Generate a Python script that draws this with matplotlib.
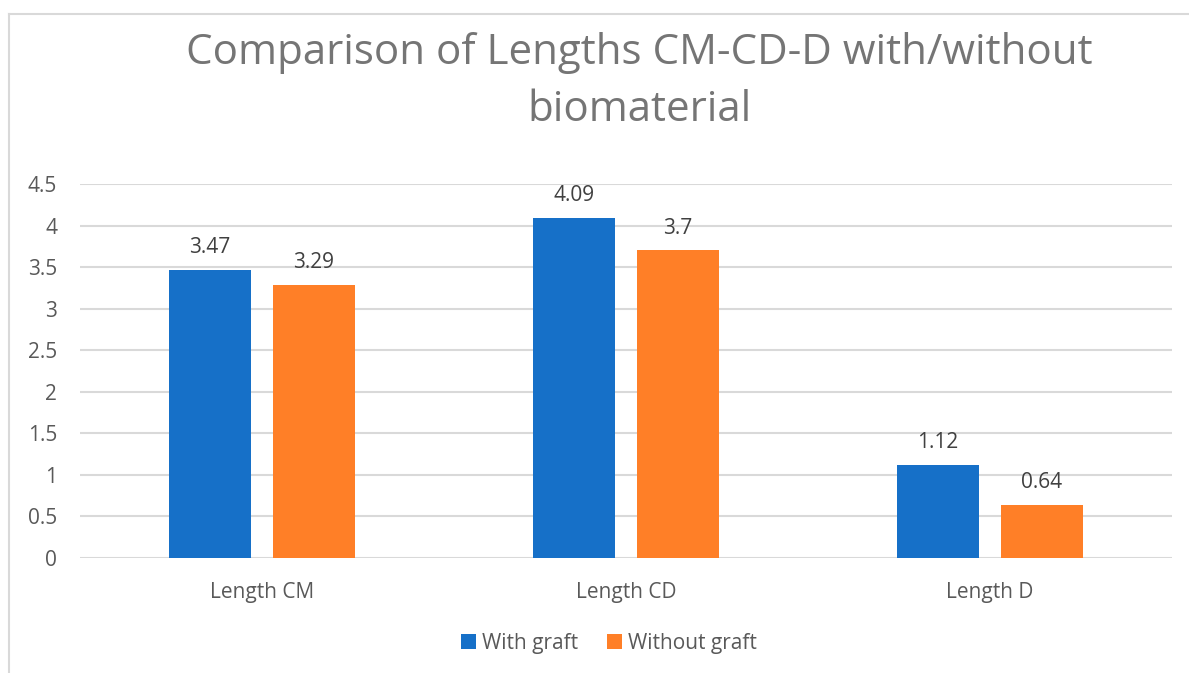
import matplotlib.pyplot as plt
import numpy as np
from matplotlib.lines import Line2D

categories = ["Length CM", "Length CD", "Length D"]
with_graft = [3.47, 4.09, 1.12]
without_graft = [3.29, 3.7, 0.64]
series_names = ["With graft", "Without graft"]
yticks = [0, 0.5, 1, 1.5, 2, 2.5, 3, 3.5, 4, 4.5]

BLUE = "#1670C8"
ORANGE = "#FF7F27"
GRID = "#D9D9D9"
TEXT = "#595959"

plt.rcParams["font.family"] = ["Open Sans", "DejaVu Sans"]

W, H = 1189, 673
fig = plt.figure(figsize=(W / 100, H / 100), dpi=100)
ax = fig.add_axes([80 / W, 1 - 558 / H, 1092 / W, 374 / H])

x = np.arange(len(categories))
bw = 0.225
off = 0.1425
b1 = ax.bar(x - off, with_graft, bw, color=BLUE, label=series_names[0], zorder=3)
b2 = ax.bar(x + off, without_graft, bw, color=ORANGE, label=series_names[1], zorder=3)

for bars, vals in ((b1, with_graft), (b2, without_graft)):
    for rect, v in zip(bars, vals):
        ax.annotate(f"{v:g}", (rect.get_x() + rect.get_width() / 2, v),
                    xytext=(0, 8.5), textcoords="offset points",
                    ha="center", va="bottom", fontsize=15, color="#404040")

ax.set_xlim(-0.5, len(categories) - 0.5)
ax.set_ylim(0, 4.5)
ax.set_yticks(yticks)
ax.set_yticklabels([f"{t:g}" for t in yticks])
ax.set_xticks(x)
ax.set_xticklabels(categories)
ax.tick_params(axis="both", length=0, colors=TEXT, labelsize=15)
ax.tick_params(axis="y", pad=16.5)
ax.tick_params(axis="x", pad=17)
ax.yaxis.grid(True, color=GRID, linewidth=1.5, zorder=0)
for s in ax.spines.values():
    s.set_visible(False)

fig.text(0.538, 1 - 53 / H, "Comparison of Lengths CM-CD-D with/without",
         ha="center", va="center", fontsize=30.3, color="#757575")
fig.text(0.538, 1 - 110 / H, "biomaterial",
         ha="center", va="center", fontsize=30.3, color="#757575")

leg = fig.legend(handles=[b1, b2], labels=series_names, loc="center",
                 bbox_to_anchor=(609 / W, 1 - 643 / H), ncol=2, frameon=False,
                 fontsize=15, handlelength=0.7, handleheight=0.7,
                 handletextpad=0.3, columnspacing=1.4, labelcolor=TEXT)

# outer chart frame
fig.add_artist(Line2D([9 / W, 9 / W], [0, 1 - 14 / H], color=GRID, linewidth=1.5))
fig.add_artist(Line2D([9 / W, 1], [1 - 14 / H, 1 - 14 / H], color=GRID, linewidth=1.5))

fig.savefig("out.png", dpi=100, facecolor="white")
